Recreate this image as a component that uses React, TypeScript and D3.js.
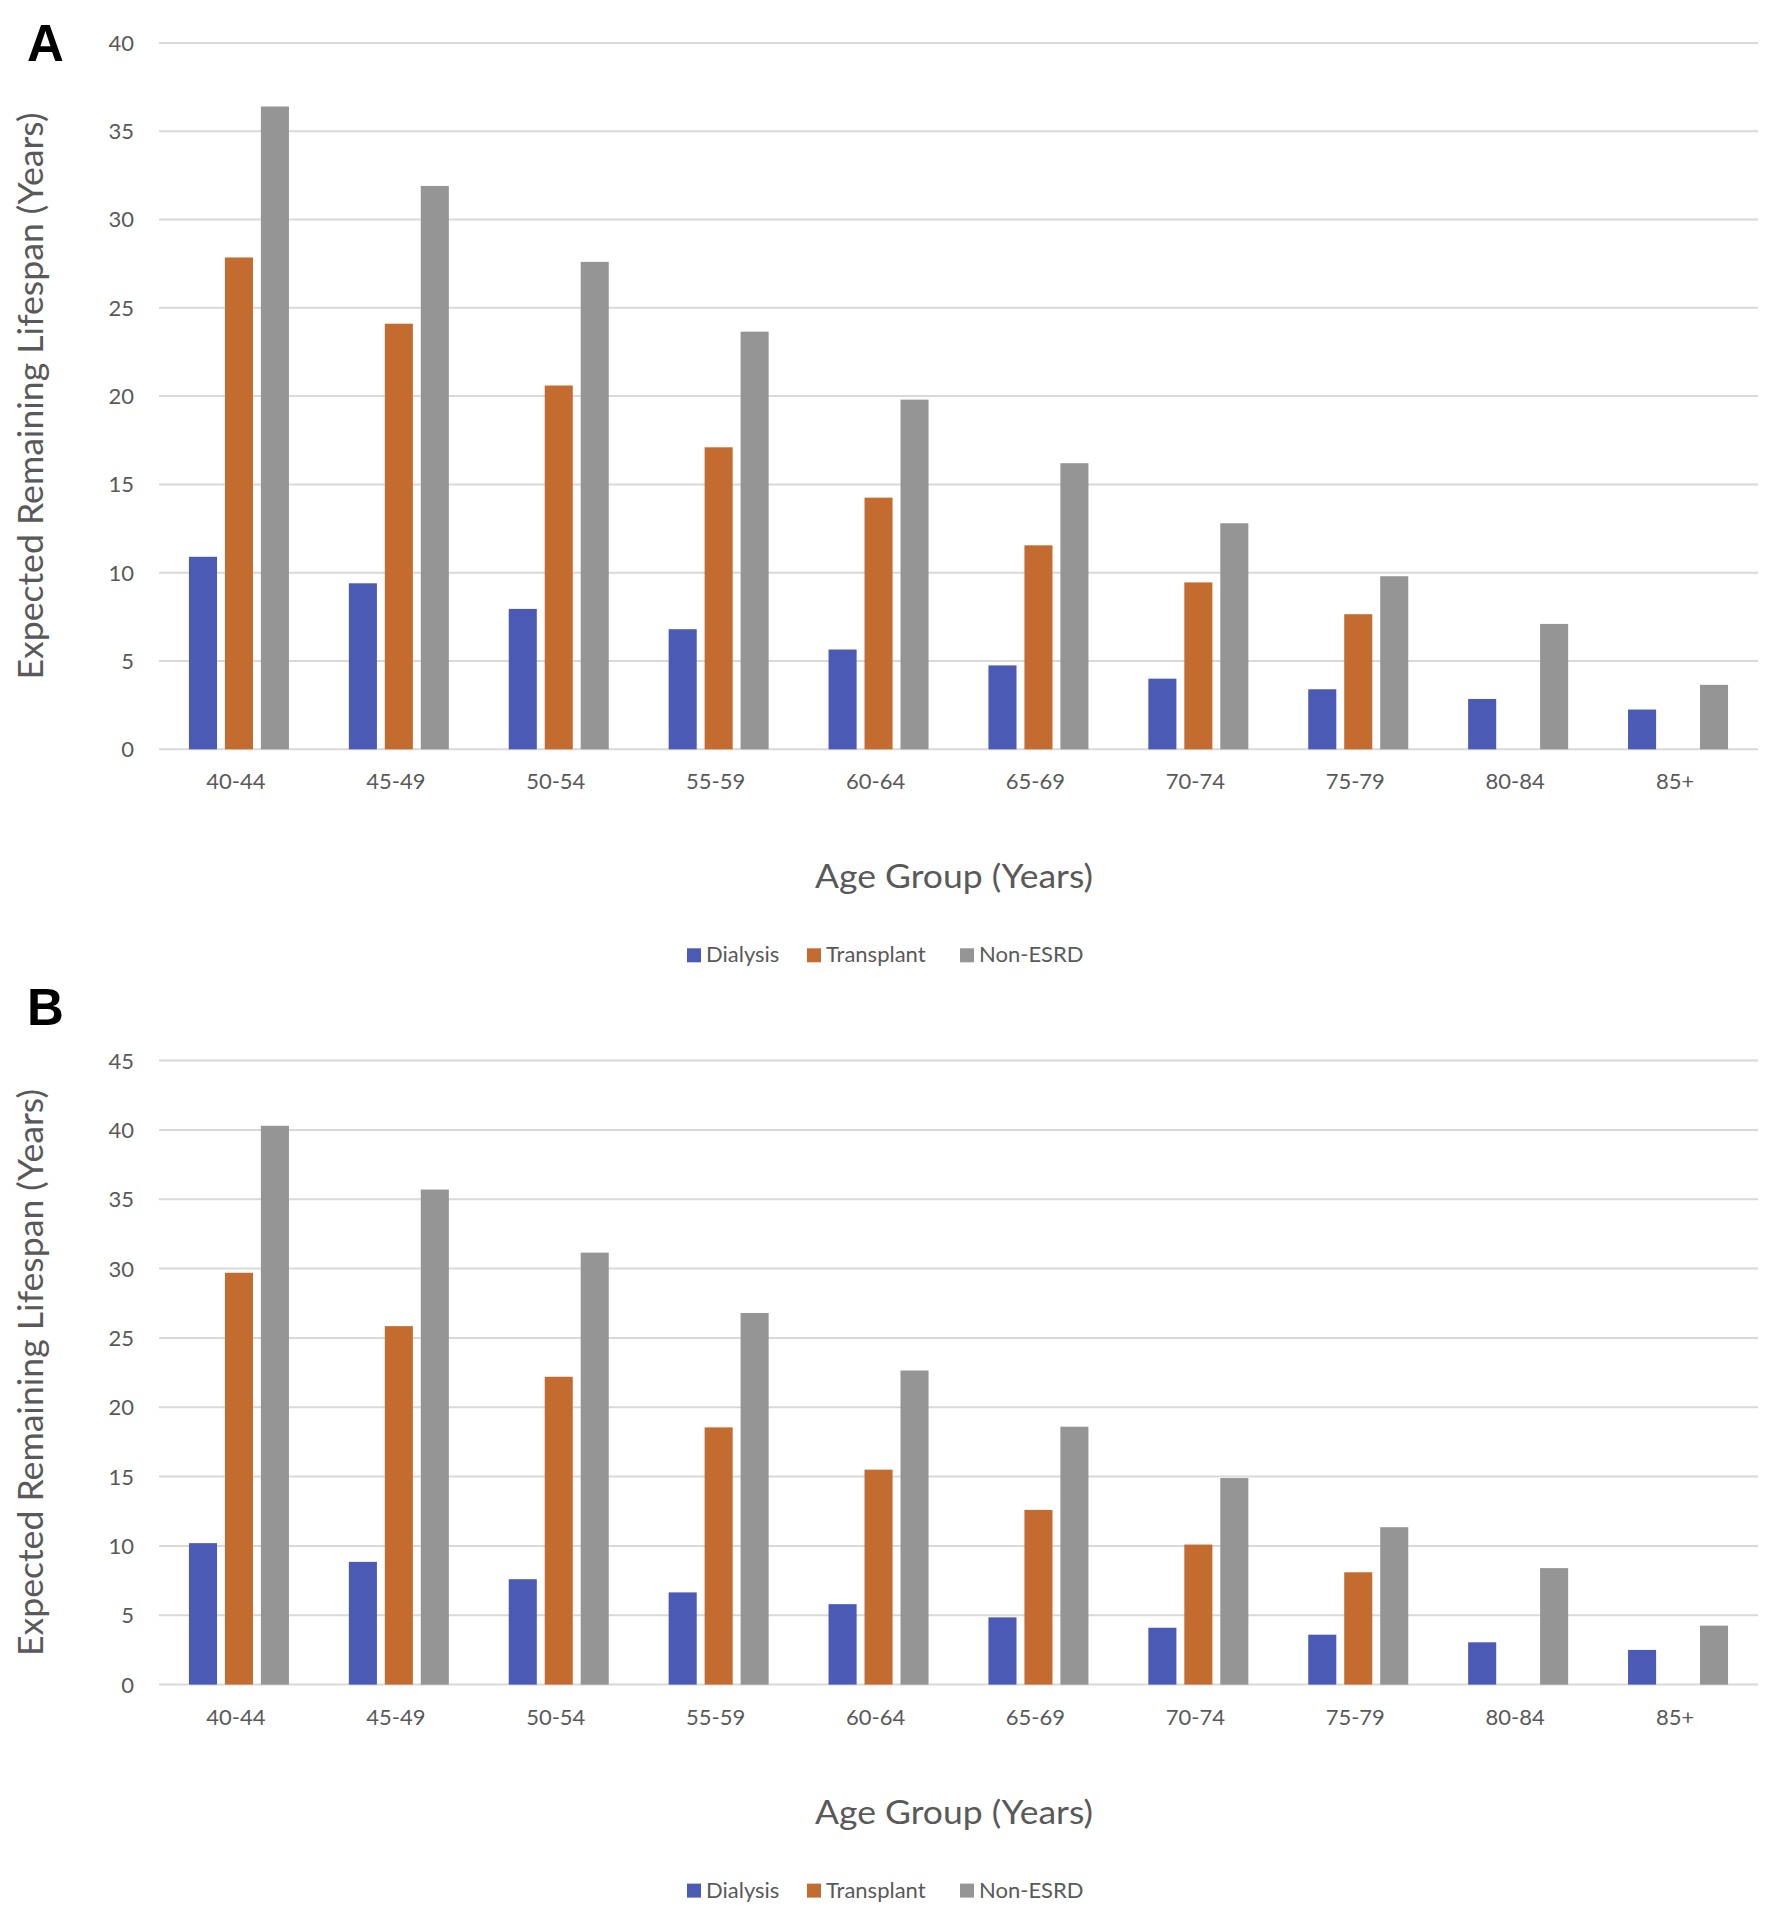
import React from "react";
import * as d3 from "d3";

// ---------- data ----------
const ageGroups = ["40-44", "45-49", "50-54", "55-59", "60-64", "65-69", "70-74", "75-79", "80-84", "85+"];
const seriesNames = ["Dialysis", "Transplant", "Non-ESRD"];
const seriesColors = ["#4A5AB5", "#C46C2F", "#959595"];

// Panel A
const dialysisA = [10.9, 9.4, 7.95, 6.8, 5.65, 4.75, 4.0, 3.4, 2.85, 2.25];
const transplantA: (number | null)[] = [27.85, 24.1, 20.6, 17.1, 14.25, 11.55, 9.45, 7.65, null, null];
const nonEsrdA = [36.4, 31.9, 27.6, 23.65, 19.8, 16.2, 12.8, 9.8, 7.1, 3.65];
const yTicksA = [0, 5, 10, 15, 20, 25, 30, 35, 40];

// Panel B
const dialysisB = [10.2, 8.85, 7.6, 6.65, 5.8, 4.85, 4.1, 3.6, 3.05, 2.5];
const transplantB: (number | null)[] = [29.7, 25.85, 22.2, 18.55, 15.5, 12.6, 10.1, 8.1, null, null];
const nonEsrdB = [40.3, 35.7, 31.15, 26.8, 22.65, 18.6, 14.9, 11.35, 8.4, 4.25];
const yTicksB = [0, 5, 10, 15, 20, 25, 30, 35, 40, 45];

const xTitle = "Age Group (Years)";
const yTitle = "Expected Remaining Lifespan (Years)";

// ---------- layout ----------
const W = 1774;
const H = 1920;
const plotLeft = 159;
const plotRight = 1758;
const textColor = "#595959";
const gridColor = "#D9D9D9";
const font = "Lato, 'Open Sans', sans-serif";
const legendSquareX = [687, 807, 960];
const xLabelShift = -3;

type PanelProps = {
  letter: string;
  letterY: number;
  top: number;
  bottom: number;
  ticks: number[];
  series: (number | null)[][];
};

function Panel({ letter, letterY, top, bottom, ticks, series }: PanelProps) {
  const x0 = d3.scaleBand<string>().domain(ageGroups).range([plotLeft, plotRight]).paddingInner(0).paddingOuter(0);
  const innerWidth = 100;
  const x1 = d3.scaleBand<string>().domain(seriesNames).range([0, innerWidth]).paddingInner(0.22).paddingOuter(0);
  const y = d3.scaleLinear().domain([0, ticks[ticks.length - 1]]).range([bottom, top]);

  return (
    <g>
      <text x={27} y={letterY} fontFamily="'Liberation Sans', Arial, sans-serif" fontWeight="bold" fontSize={51} fill="#000">
        {letter}
      </text>
      {/* grid */}
      {ticks.map((t) => (
        <line key={"g" + t} x1={plotLeft} x2={plotRight} y1={y(t)} y2={y(t)} stroke={gridColor} strokeWidth={2} />
      ))}
      {/* y tick labels */}
      {ticks.map((t) => (
        <text key={"t" + t} x={134} y={y(t)} dy="0.36em" textAnchor="end" fontFamily={font} fontSize={22} fill={textColor}>
          {t}
        </text>
      ))}
      {/* bars */}
      {ageGroups.map((g, i) => {
        const c = (x0(g) as number) + x0.bandwidth() / 2 - innerWidth / 2;
        return (
          <g key={g}>
            {seriesNames.map((s, k) => {
              const v = series[k][i];
              if (v === null || v === undefined) return null;
              return (
                <rect
                  key={s}
                  x={c + (x1(s) as number)}
                  y={y(v)}
                  width={x1.bandwidth()}
                  height={y(0) - y(v)}
                  fill={seriesColors[k]}
                />
              );
            })}
          </g>
        );
      })}
      {/* x tick labels */}
      {ageGroups.map((g) => (
        <text
          key={"x" + g}
          x={(x0(g) as number) + x0.bandwidth() / 2 + xLabelShift}
          y={bottom + 40}
          textAnchor="middle"
          fontFamily={font}
          fontSize={22}
          fill={textColor}
        >
          {g}
        </text>
      ))}
      {/* axis titles */}
      <text
        transform={`translate(43, ${(top + bottom) / 2}) rotate(-90)`}
        textAnchor="middle"
        fontFamily={font}
        fontSize={34}
        fill={textColor}
        textLength={567}
        lengthAdjust="spacingAndGlyphs"
      >
        {yTitle}
      </text>
      <text
        x={954}
        y={bottom + 139}
        textAnchor="middle"
        fontFamily={font}
        fontSize={32}
        fill={textColor}
        textLength={278}
        lengthAdjust="spacingAndGlyphs"
      >
        {xTitle}
      </text>
      {/* legend */}
      {seriesNames.map((s, k) => (
        <g key={"l" + s}>
          <rect x={legendSquareX[k]} y={bottom + 199} width={14} height={14} fill={seriesColors[k]} />
          <text x={legendSquareX[k] + 19} y={bottom + 213} fontFamily={font} fontSize={22} fill={textColor}>
            {s}
          </text>
        </g>
      ))}
    </g>
  );
}

export default function App() {
  return (
    <svg
      width={W}
      height={H}
      viewBox={`0 0 ${W} ${H}`}
      style={{ position: "absolute", left: 0, top: 0, background: "#fff" }}
    >
      <rect x={0} y={0} width={W} height={H} fill="#fff" />
      <Panel letter="A" letterY={61} top={42.9} bottom={749.3} ticks={yTicksA} series={[dialysisA, transplantA, nonEsrdA]} />
      <Panel letter="B" letterY={1025} top={1060.6} bottom={1684.6} ticks={yTicksB} series={[dialysisB, transplantB, nonEsrdB]} />
    </svg>
  );
}
